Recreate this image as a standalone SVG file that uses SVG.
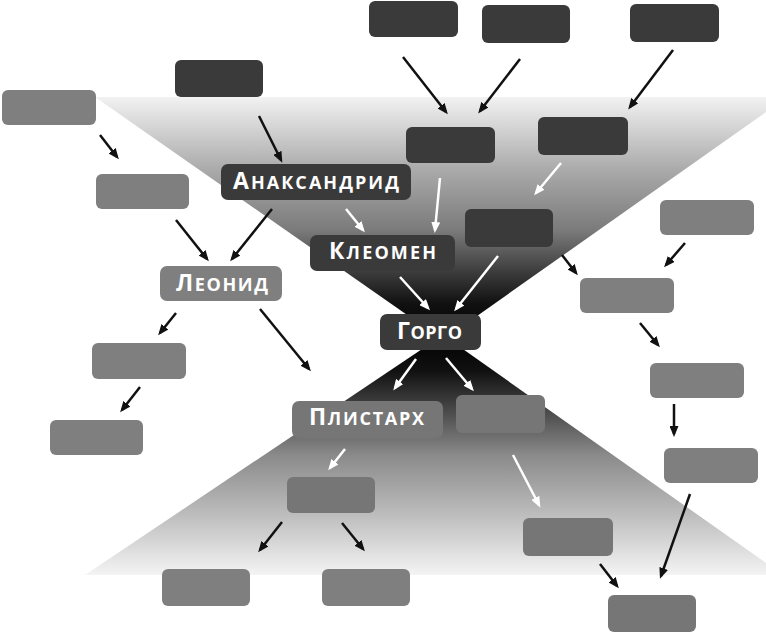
<svg xmlns="http://www.w3.org/2000/svg" width="766" height="633" viewBox="0 0 766 633">
<defs>
<linearGradient id="gTop" gradientUnits="userSpaceOnUse" x1="0" y1="97" x2="0" y2="340">
<stop offset="0" stop-color="#f2f2f2"/>
<stop offset="0.3" stop-color="#aaaaaa"/>
<stop offset="0.55" stop-color="#7a7a7a"/>
<stop offset="0.72" stop-color="#3c3c3c"/>
<stop offset="0.85" stop-color="#111111"/>
<stop offset="1" stop-color="#000000"/>
</linearGradient>
<linearGradient id="gBot" gradientUnits="userSpaceOnUse" x1="0" y1="335" x2="0" y2="575">
<stop offset="0" stop-color="#000000"/>
<stop offset="0.15" stop-color="#111111"/>
<stop offset="0.3" stop-color="#444444"/>
<stop offset="0.5" stop-color="#8a8a8a"/>
<stop offset="0.75" stop-color="#bdbdbd"/>
<stop offset="1" stop-color="#f4f4f4"/>
</linearGradient>
<marker id="ab" viewBox="0 0 11 9" refX="8" refY="4.5" markerWidth="11" markerHeight="9" markerUnits="userSpaceOnUse" orient="auto">
<path d="M0,0 L11,4.5 L0,9 z" fill="#111"/>
</marker>
<marker id="aw" viewBox="0 0 11 9" refX="8" refY="4.5" markerWidth="11" markerHeight="9" markerUnits="userSpaceOnUse" orient="auto">
<path d="M0,0 L11,4.5 L0,9 z" fill="#fff"/>
</marker>
</defs>
<style>
.dk{fill:#3a3a3a;}
.gr{fill:#7f7f7f;}
.gr2{fill:#767676;}
.cb{stroke:#111;stroke-width:2.5;fill:none;marker-end:url(#ab);}
.cw{stroke:#fff;stroke-width:2.5;fill:none;marker-end:url(#aw);}
.lbl{font-family:"Open Sans","DejaVu Sans",sans-serif;font-weight:bold;font-size:26px;font-variant:small-caps;fill:#fff;}
.cap{font-size:23px;}
</style>
<rect width="766" height="633" fill="#fff"/>
<g id="hourglass">
<polygon points="95,97 766,97 766,112 443,340" fill="url(#gTop)"/>
<polygon points="443,335 766,563 766,575 85,575" fill="url(#gBot)"/>
</g>
<g id="connectors">
<line class="cb" x1="403" y1="57" x2="446" y2="112"/>
<line class="cb" x1="520" y1="59" x2="480" y2="111"/>
<line class="cb" x1="673" y1="50" x2="630" y2="107"/>
<line class="cb" x1="259" y1="116" x2="281" y2="160"/>
<line class="cb" x1="100" y1="135" x2="117" y2="157"/>
<line class="cb" x1="176" y1="220" x2="207" y2="259"/>
<line class="cb" x1="272" y1="209" x2="232" y2="259"/>
<line class="cw" x1="346" y1="209" x2="363" y2="230"/>
<line class="cw" x1="440" y1="178" x2="435" y2="230"/>
<line class="cw" x1="561" y1="163" x2="536" y2="193"/>
<line class="cb" x1="562" y1="255" x2="576" y2="273"/>
<line class="cb" x1="685" y1="243" x2="666" y2="265"/>
<line class="cw" x1="400" y1="277" x2="428" y2="308"/>
<line class="cw" x1="498" y1="256" x2="456" y2="309"/>
<line class="cb" x1="176" y1="313" x2="160" y2="333"/>
<line class="cb" x1="260" y1="309" x2="309" y2="369"/>
<line class="cb" x1="140" y1="387" x2="122" y2="410"/>
<line class="cw" x1="416" y1="359" x2="395" y2="388"/>
<line class="cw" x1="446" y1="358" x2="472" y2="389"/>
<line class="cw" x1="345" y1="449" x2="330" y2="468"/>
<line class="cb" x1="282" y1="522" x2="260" y2="550"/>
<line class="cb" x1="342" y1="523" x2="363" y2="549"/>
<line class="cw" x1="513" y1="455" x2="539" y2="505"/>
<line class="cb" x1="600" y1="564" x2="617" y2="586"/>
<line class="cb" x1="690" y1="494" x2="661" y2="576"/>
<line class="cb" x1="674" y1="404" x2="674" y2="434"/>
<line class="cb" x1="640" y1="323" x2="658" y2="345"/>
</g>
<g id="n1"><rect class="dk" x="175" y="60" width="88" height="37" rx="6"/></g>
<g id="n2"><rect class="dk" x="369" y="1" width="89" height="36" rx="6"/></g>
<g id="n3"><rect class="dk" x="482" y="5" width="88" height="38" rx="6"/></g>
<g id="n4"><rect class="dk" x="630" y="4" width="89" height="38" rx="6"/></g>
<g id="n5"><rect class="dk" x="406" y="127" width="89" height="36" rx="6"/></g>
<g id="n6"><rect class="dk" x="538" y="117" width="90" height="38" rx="6"/></g>
<g id="n7"><rect class="dk" x="465" y="209" width="88" height="38" rx="6"/></g>
<g id="anaksandrid"><rect class="dk" x="221" y="164" width="190" height="36" rx="7"/><text class="lbl" x="233" y="189" textLength="166" lengthAdjust="spacing"><tspan class="cap">А</tspan>наксандрид</text></g>
<g id="kleomen"><rect class="dk" x="310" y="235" width="145" height="36" rx="7"/><text class="lbl" x="329" y="259" textLength="107" lengthAdjust="spacing"><tspan class="cap">К</tspan>леомен</text></g>
<g id="gorgo"><rect class="dk" x="380" y="314" width="101" height="36" rx="7"/><text class="lbl" x="397" y="339" textLength="65" lengthAdjust="spacing"><tspan class="cap">Г</tspan>орго</text></g>
<g id="leonid"><rect class="gr" x="160" y="266" width="122" height="35" rx="7"/><text class="lbl" x="176" y="291" textLength="92" lengthAdjust="spacing"><tspan class="cap">Л</tspan>еонид</text></g>
<g id="plistarh"><rect class="gr2" x="292" y="401" width="151" height="37" rx="7"/><text class="lbl" x="309" y="425" textLength="115" lengthAdjust="spacing"><tspan class="cap">П</tspan>листарх</text></g>
<g id="n8"><rect class="gr2" x="456" y="395" width="89" height="38" rx="6"/></g>
<g id="g1"><rect class="gr" x="2" y="90" width="94" height="35" rx="6"/></g>
<g id="g2"><rect class="gr" x="96" y="174" width="93" height="35" rx="6"/></g>
<g id="g3"><rect class="gr" x="92" y="343" width="94" height="36" rx="6"/></g>
<g id="g4"><rect class="gr" x="50" y="420" width="93" height="35" rx="6"/></g>
<g id="g5"><rect class="gr2" x="287" y="477" width="88" height="36" rx="6"/></g>
<g id="g6"><rect class="gr" x="162" y="569" width="88" height="37" rx="6"/></g>
<g id="g7"><rect class="gr" x="322" y="569" width="88" height="37" rx="6"/></g>
<g id="g8"><rect class="gr" x="660" y="200" width="94" height="35" rx="6"/></g>
<g id="g9"><rect class="gr" x="580" y="278" width="94" height="35" rx="6"/></g>
<g id="g10"><rect class="gr" x="650" y="363" width="94" height="35" rx="6"/></g>
<g id="g11"><rect class="gr" x="664" y="448" width="94" height="35" rx="6"/></g>
<g id="g12"><rect class="gr2" x="523" y="518" width="90" height="38" rx="6"/></g>
<g id="g13"><rect class="gr2" x="608" y="595" width="88" height="37" rx="6"/></g>
</svg>
